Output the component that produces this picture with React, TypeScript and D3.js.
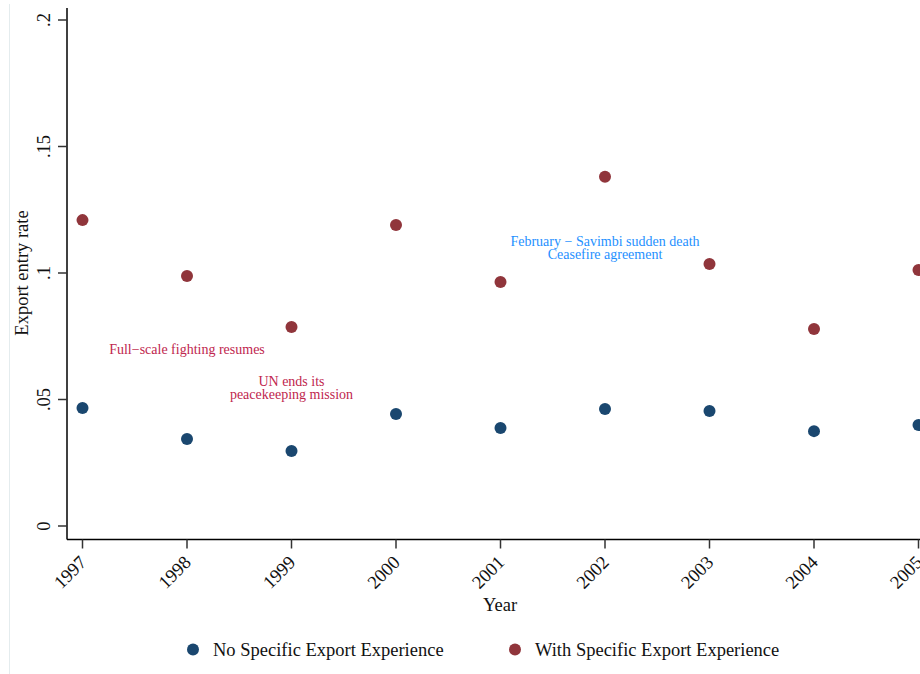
import React from "react";
import * as d3 from "d3";

const years = [1997, 1998, 1999, 2000, 2001, 2002, 2003, 2004, 2005];
const noExp = [0.0466, 0.0344, 0.0296, 0.0443, 0.0387, 0.0462, 0.0455, 0.0375, 0.0399];
const withExp = [0.1209, 0.0988, 0.0787, 0.119, 0.0964, 0.138, 0.1036, 0.0779, 0.1012];
const yTicks = [0, 0.05, 0.1, 0.15, 0.2];
const yTickLabels = ["0", ".05", ".1", ".15", ".2"];
const seriesNames = ["No Specific Export Experience", "With Specific Export Experience"];
const annotations = [
  { year: 1998, value: 0.0679, lines: ["Full\u2212scale fighting resumes"], color: "#c0264e" },
  { year: 1999, value: 0.0555, lines: ["UN ends its", "peacekeeping mission"], color: "#c0264e" },
  { year: 2002, value: 0.1108, lines: ["February \u2212 Savimbi sudden death", "Ceasefire agreement"], color: "#1e90ff" },
];

const W = 920;
const H = 674;
const FONT = "'Liberation Serif', 'Times New Roman', serif";
const BLUE = "#1a476f";
const RED = "#90353b";

export default function App() {
  const x = d3.scaleLinear().domain([1997, 2005]).range([82.5, 918.5]);
  const y = d3.scaleLinear().domain([0, 0.2]).range([526, 20]);
  const axisX = 67;
  const axisY = 539.5;

  return (
    <svg width={W} height={H} style={{ position: "absolute", left: 0, top: 0, background: "#fff" }} fontFamily={FONT}>
      <rect x={0} y={0} width={W} height={H} fill="#fff" />
      <line x1={9.5} x2={9.5} y1={4} y2={H} stroke="#e4ecee" strokeWidth={1} />
      {/* y axis */}
      <line x1={axisX} x2={axisX} y1={8} y2={axisY} stroke="#000" strokeWidth={1.5} />
      {yTicks.map((t, i) => (
        <g key={t}>
          <line x1={axisX - 9} x2={axisX} y1={y(t)} y2={y(t)} stroke="#333" strokeWidth={1.5} />
          <text
            transform={`translate(${50},${y(t)}) rotate(-90)`}
            textAnchor="middle"
            fontSize={18.5}
            fill="#111"
          >
            {yTickLabels[i]}
          </text>
        </g>
      ))}
      <text transform={`translate(28,273) rotate(-90)`} textAnchor="middle" fontSize={18.5} fill="#111">
        Export entry rate
      </text>
      {/* x axis */}
      <line x1={axisX} x2={W} y1={axisY} y2={axisY} stroke="#000" strokeWidth={1.5} />
      {years.map((yr) => (
        <g key={yr}>
          <line x1={x(yr)} x2={x(yr)} y1={axisY} y2={axisY + 9} stroke="#333" strokeWidth={1.5} />
          <text
            transform={`translate(${x(yr) - 4},${axisY + 15}) rotate(-45)`}
            textAnchor="end"
            dominantBaseline="hanging"
            fontSize={18.5}
            fill="#111"
          >
            {yr}
          </text>
        </g>
      ))}
      <text x={500} y={611} textAnchor="middle" fontSize={18.5} fill="#111">
        Year
      </text>
      {/* annotations */}
      {annotations.map((a, i) => (
        <text key={i} x={x(a.year)} y={y(a.value)} textAnchor="middle" fontSize={14} fill={a.color}>
          {a.lines.map((l, j) => (
            <tspan key={j} x={x(a.year)} dy={j === 0 ? 0 : 13.5}>
              {l}
            </tspan>
          ))}
        </text>
      ))}
      {/* points */}
      {years.map((yr, i) => (
        <circle key={"n" + yr} cx={x(yr)} cy={y(noExp[i])} r={6} fill={BLUE} />
      ))}
      {years.map((yr, i) => (
        <circle key={"w" + yr} cx={x(yr)} cy={y(withExp[i])} r={6} fill={RED} />
      ))}
      {/* legend */}
      <circle cx={193} cy={649.5} r={6} fill={BLUE} />
      <text x={213} y={656} fontSize={18.5} fill="#111">{seriesNames[0]}</text>
      <circle cx={515} cy={649.5} r={6} fill={RED} />
      <text x={535} y={656} fontSize={18.5} fill="#111">{seriesNames[1]}</text>
    </svg>
  );
}
